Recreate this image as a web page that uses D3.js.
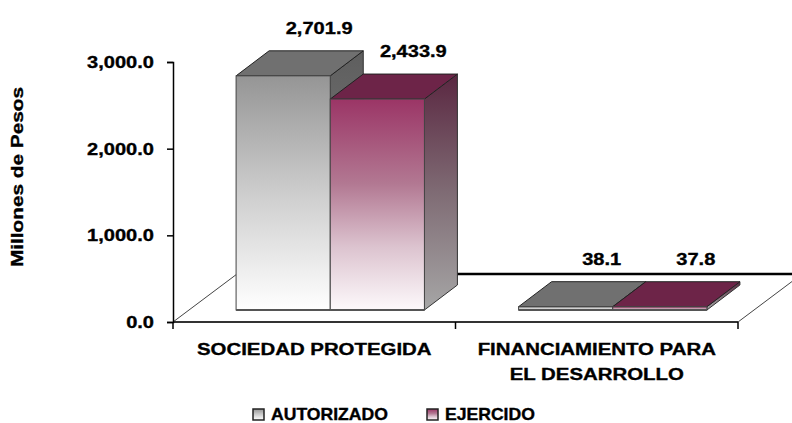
<!DOCTYPE html>
<html>
<head>
<meta charset="utf-8">
<script src="https://cdn.jsdelivr.net/npm/d3@7"></script>
<style>
  body { margin: 0; background: #fff; }
  text { font-family: "Liberation Sans", Arial, sans-serif; font-weight: bold; fill: #000; stroke: #000; stroke-width: 0.35px; }
</style>
</head>
<body>
<div id="chart"></div>
<script>
// data
var categories = ["SOCIEDAD PROTEGIDA", "FINANCIAMIENTO PARA|EL DESARROLLO"];
var series = ["AUTORIZADO", "EJERCIDO"];
var autorizado = [2701.9, 38.1];
var ejercido = [2433.9, 37.8];
var yTicks = [0, 1000, 2000, 3000];

var width = 792, height = 423;
var stretch = 1.18; // the glyphs in the picture are wide

// 3d offsets
var barShift = {dx: 16, dy: -12};   // front of bars vs front of floor
var barDepth = {dx: 33, dy: -25};
var floorDepth = {dx: 64, dy: -48};

var svg = d3.select("#chart").append("svg")
  .attr("width", width)
  .attr("height", height);

var defs = svg.append("defs");
function grad(id, stops) {
  var g = defs.append("linearGradient").attr("id", id)
    .attr("x1", 0).attr("y1", 0).attr("x2", 0).attr("y2", 1);
  stops.forEach(function(s) {
    g.append("stop").attr("offset", s[0]).attr("stop-color", s[1]);
  });
}
grad("grayFront", [[0, "#959595"], [0.5, "#cdcdcd"], [1, "#ffffff"]]);
grad("pinkFront", [[0, "#9b3566"], [0.4, "#b27892"], [0.7, "#dcc3cf"], [1, "#fdf9fb"]]);
grad("pinkSide", [[0, "#5a2741"], [0.5, "#7f6b74"], [1, "#a6a6a6"]]);
grad("graySide", [[0, "#5e5e5e"], [1, "#8a8a8a"]]);

var styles = [
  {front: "url(#grayFront)", top: "#707070", side: "url(#graySide)"},
  {front: "url(#pinkFront)", top: "#6d2448", side: "url(#pinkSide)"}
];

var y = d3.scaleLinear().domain([0, 3000]).range([322, 62]);
var x = d3.scaleBand().domain(categories).range([173, 738]);
var xInner = d3.scaleBand().domain(series).range([x.bandwidth() / 6, x.bandwidth() * 5 / 6]);

// floor
var fx0 = x.range()[0], fx1 = x.range()[1], fy = y(0);
svg.append("polygon")
  .attr("points", [[fx0, fy], [fx0 + floorDepth.dx, fy + floorDepth.dy],
    [fx1 + floorDepth.dx, fy + floorDepth.dy], [fx1, fy]].join(" "))
  .attr("fill", "#fff");
svg.append("line")
  .attr("x1", fx0 + floorDepth.dx).attr("y1", fy + floorDepth.dy)
  .attr("x2", fx1 + floorDepth.dx).attr("y2", fy + floorDepth.dy)
  .attr("stroke", "#000").attr("stroke-width", 2.5);
[fx0, fx1].forEach(function(px) {
  svg.append("line")
    .attr("x1", px).attr("y1", fy)
    .attr("x2", px + floorDepth.dx).attr("y2", fy + floorDepth.dy)
    .attr("stroke", "#444").attr("stroke-width", 1);
});

// bars
var bars = [];
categories.forEach(function(c, i) {
  bars.push({cat: c, s: 0, v: autorizado[i]});
  bars.push({cat: c, s: 1, v: ejercido[i]});
});

var barG = svg.append("g");
bars.forEach(function(d) {
  var w = xInner.bandwidth();
  var x0 = x(d.cat) + xInner(series[d.s]) + barShift.dx;
  var yb = y(0) + barShift.dy;
  var yt = y(d.v) + barShift.dy;
  var dx = barDepth.dx, dy = barDepth.dy;
  var st = styles[d.s];
  var g = barG.append("g");
  g.append("polygon")
    .attr("points", [[x0 + w, yt], [x0 + w + dx, yt + dy], [x0 + w + dx, yb + dy], [x0 + w, yb]].join(" "))
    .attr("fill", st.side).attr("stroke", "#333").attr("stroke-width", 1);
  g.append("polygon")
    .attr("points", [[x0, yt], [x0 + dx, yt + dy], [x0 + w + dx, yt + dy], [x0 + w, yt]].join(" "))
    .attr("fill", st.top).attr("stroke", "#222").attr("stroke-width", 1);
  g.append("rect")
    .attr("x", x0).attr("y", yt)
    .attr("width", w).attr("height", Math.max(1, yb - yt))
    .attr("fill", st.front).attr("stroke", "#444").attr("stroke-width", 1);
  g.append("line")
    .attr("x1", x0).attr("y1", yb).attr("x2", x0 + w).attr("y2", yb)
    .attr("stroke", "#555").attr("stroke-width", 2);
  // value label above the back of the top face
  svg.append("text")
    .attr("transform", "translate(" + (x0 + w / 2 + dx + 3) + "," + (yt + dy - 17) + ") scale(" + stretch + ",1)")
    .attr("text-anchor", "middle")
    .style("font-size", "17px")
    .text(d3.format(",.1f")(d.v));
});

// front edge of floor with category ticks
svg.append("line")
  .attr("x1", fx0).attr("y1", fy).attr("x2", fx1).attr("y2", fy)
  .attr("stroke", "#333").attr("stroke-width", 2);
d3.range(categories.length + 1).forEach(function(i) {
  var px = x.range()[0] + i * x.step();
  svg.append("line")
    .attr("x1", px).attr("y1", fy).attr("x2", px).attr("y2", fy + 7)
    .attr("stroke", "#000").attr("stroke-width", 1.5);
});

// y axis
var yAxis = svg.append("g")
  .attr("transform", "translate(" + fx0 + ",0)")
  .call(d3.axisLeft(y).tickValues(yTicks).tickFormat(d3.format(",.1f")).tickSize(6));
yAxis.select(".domain").attr("stroke", "#000").attr("stroke-width", 1.5);
yAxis.selectAll(".tick line").attr("stroke", "#000").attr("stroke-width", 1.5);
yAxis.selectAll("text")
  .attr("x", -19 / stretch)
  .attr("transform", "scale(" + stretch + ",1)")
  .style("font-size", "17px")
  .style("font-family", "'Liberation Sans', Arial, sans-serif")
  .style("font-weight", "bold");

svg.append("text")
  .attr("transform", "translate(23,177) rotate(-90) scale(1.26,1)")
  .attr("text-anchor", "middle")
  .style("font-size", "16.5px")
  .text("Millones de Pesos");

// category labels
categories.forEach(function(c) {
  c.split("|").forEach(function(line, j) {
    svg.append("text")
      .attr("transform", "translate(" + (x(c) + x.bandwidth() / 2) + "," + (355 + j * 25) + ") scale(" + (stretch + 0.02) + ",1)")
      .attr("text-anchor", "middle")
      .style("font-size", "17px")
      .text(line);
  });
});

// legend
var legendX = [253, 427];
series.forEach(function(s, i) {
  svg.append("rect")
    .attr("x", legendX[i]).attr("y", 409)
    .attr("width", 11).attr("height", 11)
    .attr("fill", styles[i].front)
    .attr("stroke", "#222").attr("stroke-width", 1.5);
  svg.append("text")
    .attr("transform", "translate(" + (legendX[i] + 18) + ",420) scale(1.1,1)")
    .style("font-size", "16px")
    .text(s);
});
</script>
</body>
</html>
